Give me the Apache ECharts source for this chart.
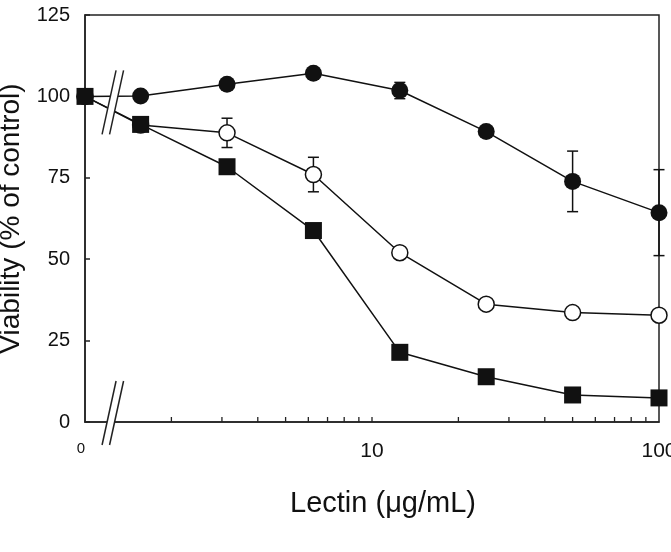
<!DOCTYPE html>
<html>
<head>
<meta charset="utf-8">
<script src="https://cdn.jsdelivr.net/npm/echarts@6/dist/echarts.min.js"></script>
<style>html,body{margin:0;padding:0;background:#fff;}#c{width:671px;height:552px;}</style>
</head>
<body>
<div id="c"></div>
<script>
// Concentrations (µg/mL); 0 = control, drawn at the left axis
var conc = [0, 1.5625, 3.125, 6.25, 12.5, 25, 50, 100];
// Viability (% of control)
var filledCircle = [100, 100.1, 103.7, 107.1, 101.8, 89.2, 73.9, 64.3];
var openCircle   = [100, 91.2, 88.8, 76.0, 52.0, 36.2, 33.6, 32.8];
var filledSquare = [100, 91.4, 78.4, 58.8, 21.4, 13.9, 8.3, 7.4];
// Error bars: [concentration, SD]
var filledCircleErr = [[12.5, 2.5], [50, 9.3], [100, 13.2]];
var openCircleErr   = [[3.125, 4.5], [6.25, 5.3]];
// Axis ticks
var yTicks = [0, 25, 50, 75, 100, 125];
var xMinorTicks = [2, 3, 4, 5, 6, 7, 8, 9, 10, 20, 30, 40, 50, 60, 70, 80, 90];
var xMin = 1, xMax = 100;
var breakX = 1.25;

var FONT = 'Liberation Sans, Arial, Helvetica, sans-serif';
var INK = '#111';

function pts(vals) {
  return conc.map(function (c, i) { return [c === 0 ? xMin : c, vals[i]]; });
}
function errData(vals, errs) {
  return errs.map(function (e) {
    var i = conc.indexOf(e[0]);
    return [e[0], vals[i] - e[1], vals[i] + e[1]];
  });
}
function errRender(params, api) {
  var x = api.value(0);
  var lo = api.coord([x, api.value(1)]);
  var hi = api.coord([x, api.value(2)]);
  var w = 5.5;
  var st = { stroke: INK, lineWidth: 1.5 };
  return { type: 'group', children: [
    { type: 'line', shape: { x1: lo[0], y1: lo[1], x2: hi[0], y2: hi[1] }, style: st },
    { type: 'line', shape: { x1: lo[0] - w, y1: lo[1], x2: lo[0] + w, y2: lo[1] }, style: st },
    { type: 'line', shape: { x1: hi[0] - w, y1: hi[1], x2: hi[0] + w, y2: hi[1] }, style: st }
  ]};
}

var chart = echarts.init(document.getElementById('c'), null, { renderer: 'canvas' });
chart.setOption({
  animation: false,
  backgroundColor: '#fff',
  grid: { left: 85, right: 12, top: 15, bottom: 130, containLabel: false, outerBoundsMode: 'none',
          show: true, borderColor: '#222', borderWidth: 1.5, backgroundColor: 'transparent' },
  xAxis: {
    type: 'log', logBase: 10, min: xMin, max: xMax,
    name: 'Lectin (\u03bcg/mL)', nameLocation: 'middle', nameGap: 67,
    nameTextStyle: { fontFamily: FONT, fontSize: 29, color: INK, padding: [0, 0, 0, 22] },
    axisLine: { lineStyle: { color: '#222', width: 1.5 } },
    axisTick: { show: false },
    splitLine: { show: false },
    axisLabel: {
      margin: 19, fontFamily: FONT, fontSize: 21, color: INK, hideOverlap: false,
      formatter: function (v) { var r = Math.round(v); return r === 1 ? '{z|0}' : String(r); },
      rich: { z: { fontFamily: FONT, fontSize: 15, color: INK, padding: [0, 8, 0, 0] } }
    }
  },
  yAxis: {
    type: 'value', min: yTicks[0], max: yTicks[yTicks.length - 1], interval: 25,
    name: 'Viability (% of control)', nameLocation: 'middle', nameGap: 60,
    nameTextStyle: { fontFamily: FONT, fontSize: 28, color: INK },
    axisLine: { show: true, lineStyle: { color: '#222', width: 1.5 } },
    axisTick: { show: true, inside: true, length: 5, lineStyle: { color: '#222', width: 1.5 } },
    splitLine: { show: false },
    axisLabel: { margin: 15, fontFamily: FONT, fontSize: 20, color: INK }
  },
  series: [
    {
      type: 'custom', data: xMinorTicks.map(function (v) { return [v, 0]; }), z: 1, silent: true,
      renderItem: function (params, api) {
        var p = api.coord([api.value(0), 0]);
        return { type: 'line', shape: { x1: p[0], y1: p[1], x2: p[0], y2: p[1] - 5 }, style: { stroke: '#222', lineWidth: 1.3 } };
      }
    },
    { type: 'custom', data: errData(filledCircle, filledCircleErr), renderItem: errRender, z: 2, clip: false },
    { type: 'custom', data: errData(openCircle, openCircleErr), renderItem: errRender, z: 2, clip: false },
    {
      type: 'line', data: pts(filledCircle), symbol: 'circle', symbolSize: 17, z: 3,
      lineStyle: { color: INK, width: 1.5 }, itemStyle: { color: INK }
    },
    {
      type: 'line', data: pts(openCircle), symbol: 'circle', symbolSize: 16, z: 4,
      lineStyle: { color: INK, width: 1.5 }, itemStyle: { color: '#fff', borderColor: INK, borderWidth: 1.5 }
    },
    {
      type: 'line', data: pts(filledSquare), symbol: 'rect', symbolSize: 17, z: 5,
      lineStyle: { color: INK, width: 1.5 }, itemStyle: { color: INK }
    }
  ]
});

// Axis-break marks
function breakMark(cx, cy) {
  var h = 64, dx = 14, sep = 7.5;
  var a1 = [cx - sep / 2 - dx / 2, cy + h / 2], b1 = [cx - sep / 2 + dx / 2, cy - h / 2];
  var a2 = [cx + sep / 2 - dx / 2, cy + h / 2], b2 = [cx + sep / 2 + dx / 2, cy - h / 2];
  var st = { stroke: '#222', lineWidth: 1.5 };
  return [
    { type: 'polygon', z: 100, shape: { points: [a1, b1, b2, a2] }, style: { fill: '#fff' } },
    { type: 'line', z: 101, shape: { x1: a1[0], y1: a1[1], x2: b1[0], y2: b1[1] }, style: st },
    { type: 'line', z: 101, shape: { x1: a2[0], y1: a2[1], x2: b2[0], y2: b2[1] }, style: st }
  ];
}
var pUp = chart.convertToPixel({ gridIndex: 0 }, [breakX, 100]);
var pLo = chart.convertToPixel({ gridIndex: 0 }, [breakX, 0]);
chart.setOption({ graphic: breakMark(pUp[0], pUp[1] + 6).concat(breakMark(pLo[0], pLo[1] - 9)) });
</script>
</body>
</html>
